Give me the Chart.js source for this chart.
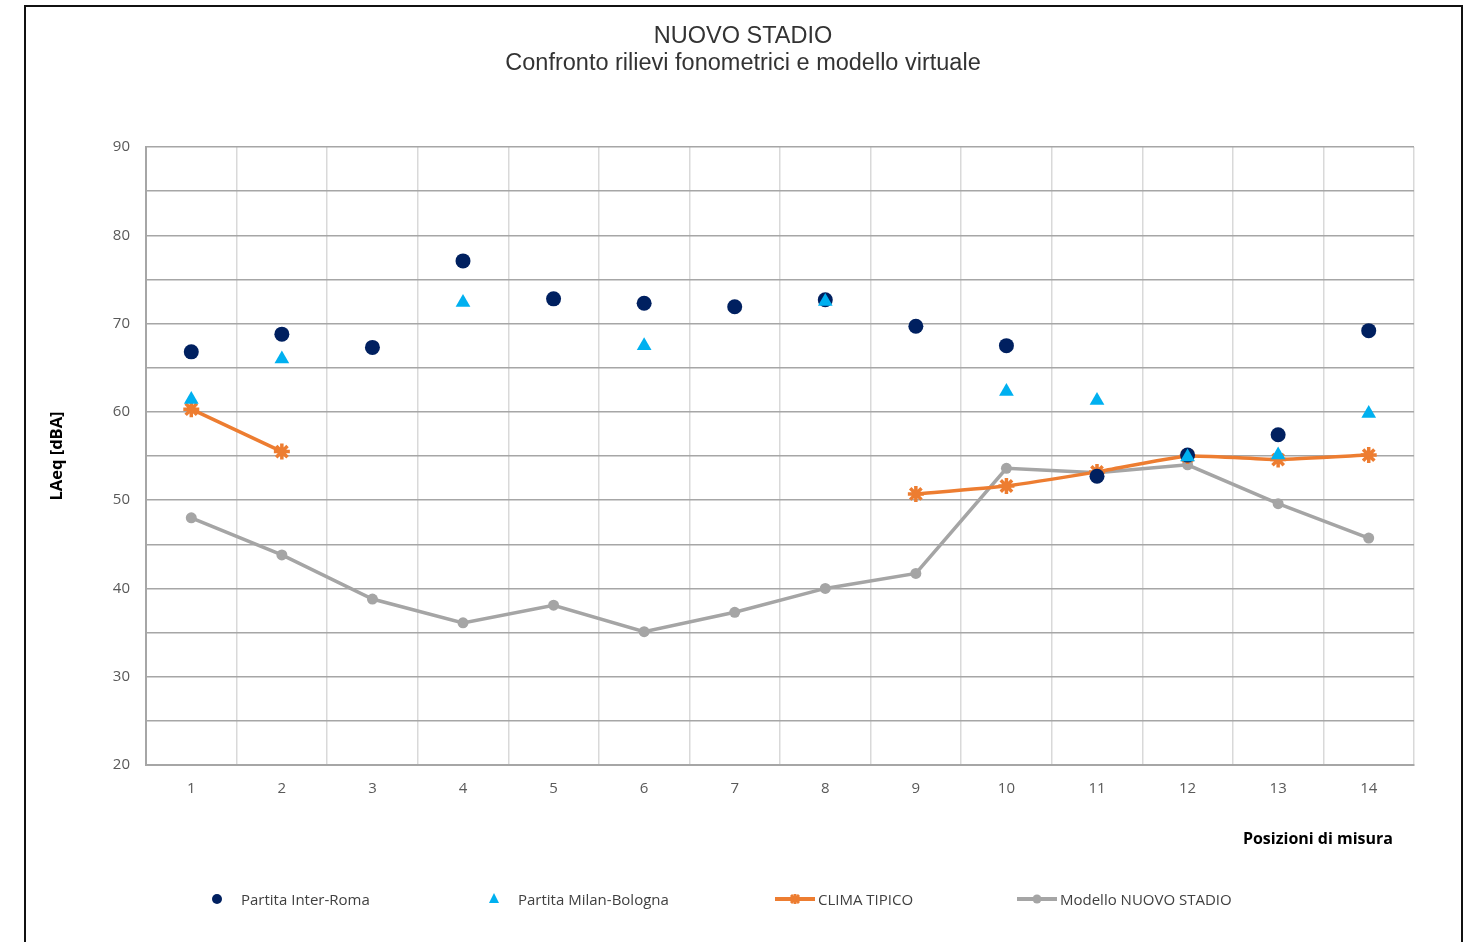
<!DOCTYPE html>
<html>
<head>
<meta charset="utf-8">
<title>NUOVO STADIO</title>
<script src="https://cdn.jsdelivr.net/npm/chart.js@4.4.1/dist/chart.umd.min.js"></script>
<style>
  html, body { margin: 0; padding: 0; background: #fff; width: 1468px; height: 942px; overflow: hidden; }
  #frame { position: absolute; left: 24px; top: 5px; width: 1439px; height: 1000px;
           border: 2px solid #111; border-bottom: none; box-sizing: border-box; }
  #wrap { position: absolute; left: 0; top: 0; width: 1468px; height: 942px; }
  #xcaption { position: absolute; right: 75px; top: 827px; height: 22px; line-height: 22px;
              font-family: "Open Sans", sans-serif; font-size: 16px; font-weight: bold; color: #000; white-space: nowrap; }
  #legend { position: absolute; left: 0; top: 889px; width: 1468px; height: 20px;
            font-family: "Open Sans", sans-serif; font-size: 15px; color: #404040; }
  .item { position: absolute; top: 0; height: 20px; white-space: nowrap; }
  .item svg { position: absolute; top: 0; left: 0; }
  .item span { position: absolute; top: 0; line-height: 20px; }
</style>
</head>
<body>
<div id="frame"></div>
<div id="wrap"><canvas id="chart" width="1468" height="942"></canvas></div>
<div id="xcaption">Posizioni di misura</div>
<div id="legend"></div>
<script>
// Measurement positions
const positions = ['1','2','3','4','5','6','7','8','9','10','11','12','13','14'];

// LAeq [dBA] per position
const interRoma     = [66.8, 68.8, 67.3, 77.1, 72.8, 72.3, 71.9, 72.7, 69.7, 67.5, 52.7, 55.1, 57.4, 69.2];
const milanBologna  = [61.4, 66.0, null, 72.4, null, 67.5, null, 72.5, null, 62.3, 61.3, 54.9, 55.1, 59.8];
const climaTipico   = [60.3, 55.5, null, null, null, null, null, null, 50.7, 51.6, 53.2, 55.0, 54.6, 55.1];
const modelloStadio = [48.0, 43.8, 38.8, 36.1, 38.1, 35.1, 37.3, 40.0, 41.7, 53.6, 53.1, 54.0, 49.6, 45.7];

// Y axis range and step
const yMin = 20, yMax = 90, yStep = 5;

const NAVY = '#002060', CYAN = '#00b0f0', ORANGE = '#ed7d31', GREY = '#a5a5a5';
const tickFont = { family: '"Open Sans", sans-serif', size: 15 };

const chart = new Chart(document.getElementById('chart'), {
  type: 'line',
  data: {
    labels: positions,
    datasets: [
      { label: 'Partita Inter-Roma', data: interRoma, showLine: false, order: 1,
        pointStyle: 'circle', pointRadius: 7.5, pointHoverRadius: 7.5,
        backgroundColor: NAVY, borderColor: NAVY, pointBorderWidth: 0 },
      { label: 'Partita Milan-Bologna', data: milanBologna, showLine: false, order: 0,
        pointStyle: 'triangle', pointRadius: 8.5, pointHoverRadius: 8.5,
        backgroundColor: CYAN, borderColor: CYAN, pointBorderWidth: 0 },
      { label: 'CLIMA TIPICO', data: climaTipico, spanGaps: false, order: 2,
        borderColor: ORANGE, backgroundColor: ORANGE, borderWidth: 3.5,
        pointStyle: 'star', pointRadius: 8, pointHoverRadius: 8,
        pointBorderWidth: 3.5, pointBorderColor: ORANGE, tension: 0.15 },
      { label: 'Modello NUOVO STADIO', data: modelloStadio, order: 3,
        borderColor: GREY, backgroundColor: GREY, borderWidth: 3.5,
        pointStyle: 'circle', pointRadius: 5.5, pointHoverRadius: 5.5,
        pointBorderWidth: 0, tension: 0 }
    ]
  },
  options: {
    responsive: false,
    animation: false,
    events: [],
    layout: { padding: { left: 72, right: 54, top: 0, bottom: 72 } },
    plugins: {
      legend: { display: false },
      tooltip: { enabled: false },
      title: {
        display: true, text: 'NUOVO STADIO', color: '#333',
        font: { family: '"Liberation Sans", Arial, sans-serif', size: 23.5, weight: 'normal', lineHeight: 1.1 },
        padding: { top: 24, bottom: 0 }
      },
      subtitle: {
        display: true, text: 'Confronto rilievi fonometrici e modello virtuale', color: '#333',
        font: { family: '"Liberation Sans", Arial, sans-serif', size: 23.5, weight: 'normal', lineHeight: 1.1 },
        padding: { top: 1.2, bottom: 70.1 }
      }
    },
    scales: {
      x: {
        type: 'category',
        offset: true,
        grid: { offset: true, color: '#d9d9d9', lineWidth: 1.5, drawTicks: false },
        border: { display: true, color: '#a6a6a6', width: 2 },
        ticks: { color: '#595959', font: tickFont, padding: 15, maxRotation: 0 },
        afterFit: (s) => { s.height = 105; }
      },
      y: {
        min: yMin, max: yMax,
        grid: { color: '#a6a6a6', lineWidth: 1.5, drawTicks: false },
        border: { display: true, color: '#a6a6a6', width: 2 },
        ticks: {
          stepSize: yStep, color: '#595959', font: tickFont, padding: 16,
          callback: (v) => (v % 10 === 0 ? v : '')
        },
        title: {
          display: true, text: 'LAeq [dBA]', color: '#000',
          font: { family: '"Open Sans", sans-serif', size: 16.5, weight: 'bold', lineHeight: 1.2 },
          padding: { top: -24.9, bottom: 0 }
        },
        afterFit: (s) => { s.width = 74; }
      }
    }
  }
});

// Legend built from the chart's datasets
(function buildLegend() {
  const legend = document.getElementById('legend');
  const centres = [217, 494, 795, 1037];
  const icons = [
    '<circle cx="21" cy="10" r="5" fill="' + NAVY + '"/>',
    '<polygon points="21,4 26,14 16,14" fill="' + CYAN + '"/>',
    '<line x1="1" y1="10" x2="41" y2="10" stroke="' + ORANGE + '" stroke-width="4"/>' +
      '<g stroke="' + ORANGE + '" stroke-width="3"><line x1="17" y1="6" x2="25" y2="14"/><line x1="25" y1="6" x2="17" y2="14"/><line x1="21" y1="5" x2="21" y2="15"/></g>',
    '<line x1="1" y1="10" x2="41" y2="10" stroke="' + GREY + '" stroke-width="4"/>' +
      '<circle cx="21" cy="10" r="4.5" fill="' + GREY + '"/>'
  ];
  chart.data.datasets.forEach((ds, i) => {
    const item = document.createElement('div');
    item.className = 'item';
    item.style.left = (centres[i] - 21) + 'px';
    item.innerHTML = '<svg width="42" height="20" viewBox="0 0 42 20">' + icons[i] + '</svg>' +
                     '<span style="left:' + (i < 2 ? 45 : 44) + 'px">' + ds.label + '</span>';
    legend.appendChild(item);
  });
})();
</script>
</body>
</html>
